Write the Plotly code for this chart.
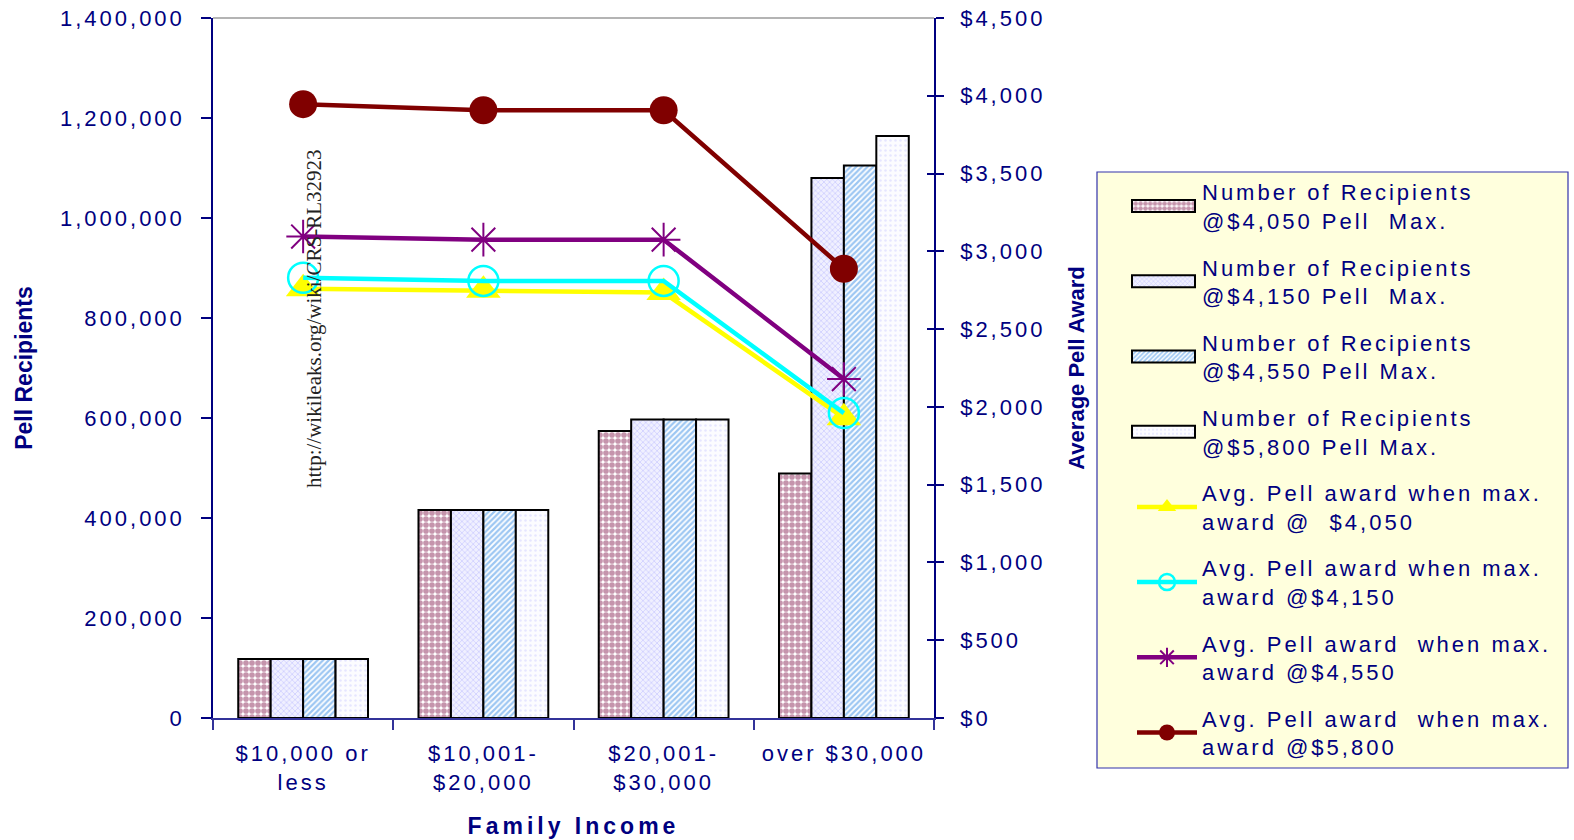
import plotly.graph_objects as go

# ---------------- data ----------------
categories = ["$10,000 or<br>less", "$10,001-<br>$20,000", "$20,001-<br>$30,000", "over $30,000"]

recip_4050 = [118000, 416000, 574000, 489000]
recip_4150 = [118000, 416000, 597000, 1080000]
recip_4550 = [118000, 416000, 597000, 1105000]
recip_5800 = [118000, 416000, 597000, 1164000]

avg_4050 = [2760, 2750, 2735, 1930]
avg_4150 = [2830, 2810, 2810, 1960]
avg_4550 = [3095, 3075, 3075, 2179]
avg_5800 = [3946, 3907, 3907, 2888]

bar_names = [
    "Number of Recipients<br>@$4,050 Pell  Max.",
    "Number of Recipients<br>@$4,150 Pell  Max.",
    "Number of Recipients<br>@$4,550 Pell Max.",
    "Number of Recipients<br>@$5,800 Pell Max.",
]
line_names = [
    "Avg. Pell award when max.<br>award @  $4,050",
    "Avg. Pell award when max.<br>award @$4,150",
    "Avg. Pell award  when max.<br>award @$4,550",
    "Avg. Pell award  when max.<br>award @$5,800",
]

left_ticks = [0, 200000, 400000, 600000, 800000, 1000000, 1200000, 1400000]
right_ticks = [0, 500, 1000, 1500, 2000, 2500, 3000, 3500, 4000, 4500]
right_tick_text = ["$" + format(v, ",") for v in right_ticks]

x_title = "Family Income"
y_title = "Pell Recipients"
y2_title = "Average Pell Award"
watermark = "http://wikileaks.org/wiki/CRS-RL32923"

# ---------------- styles ----------------
NAVY = "#000080"
FONT = "Liberation Sans, Arial, sans-serif"
W, H = 1574, 840

bar_series = [recip_4050, recip_4150, recip_4550, recip_5800]
bar_patterns = [
    dict(shape=".", fgcolor="#8b2a5a", bgcolor="#ffffff", size=6, solidity=0.7),
    dict(shape="x", fgcolor="#9c9cff", bgcolor="#f0f0ff", size=4, solidity=0.3),
    dict(shape="/", fgcolor="#3a8ee6", bgcolor="#ffffff", size=4, solidity=0.55),
    dict(shape=".", fgcolor="#d0d0ff", bgcolor="#fcfcff", size=5, solidity=0.2),
]

line_series = [avg_4050, avg_4150, avg_4550, avg_5800]
line_styles = [
    dict(color="#ffff00", symbol="triangle-up", size=30, lw=0),
    dict(color="#00ffff", symbol="circle-open", size=30, lw=2.5),
    dict(color="#800080", symbol="asterisk-open", size=28, lw=2),
    dict(color="#800000", symbol="circle", size=28, lw=0),
]

fig = go.Figure()

for i, (vals, name, pat) in enumerate(zip(bar_series, bar_names, bar_patterns)):
    fig.add_trace(go.Bar(
        x=categories, y=vals, name=name, legendgroup=f"g{i}",
        marker=dict(color=pat["bgcolor"], line=dict(color="#000000", width=2), pattern=pat),
        yaxis="y",
    ))

for i, (vals, name, st) in enumerate(zip(line_series, line_names, line_styles)):
    fig.add_trace(go.Scatter(
        x=categories, y=vals, name=name, legendgroup=f"l{i}",
        mode="lines+markers", yaxis="y2",
        line=dict(color=st["color"], width=4.5),
        marker=dict(symbol=st["symbol"], size=st["size"], color=st["color"],
                    line=dict(color=st["color"], width=st["lw"])),
    ))

# invisible helper trace so the inner half of the right-axis cross ticks is drawn
fig.add_trace(go.Scatter(x=[categories[0]], y=[None], yaxis="y3", showlegend=False,
                         hoverinfo="skip", mode="markers"))

# plot area in pixels
PL, PR, PT, PB = 213, 934, 18, 718
PW, PH = PR - PL, PB - PT


def px_x(px):
    return (px - PL) / PW


def px_y(py):
    return (PB - py) / PH


fig.update_layout(
    width=W, height=H, autosize=False,
    margin=dict(l=PL, r=W - PR, t=PT, b=H - PB, pad=0, autoexpand=False),
    paper_bgcolor="white", plot_bgcolor="white",
    font=dict(family=FONT, color=NAVY, size=22),
    barmode="group", bargap=0.28, bargroupgap=0,
    showlegend=True,
    legend=dict(
        x=px_x(1132), y=px_y(171), xanchor="left", yanchor="top",
        bgcolor="rgba(0,0,0,0)", borderwidth=0,
        font=dict(family=FONT, size=22, color=NAVY),
        itemwidth=60, tracegroupgap=15, traceorder="grouped",
    ),
    xaxis=dict(
        type="category", categoryorder="array", categoryarray=categories,
        range=[-0.5, 3.5], tickson="boundaries",
        ticks="outside", ticklen=10, tickwidth=1.5, tickcolor="#333399",
        showline=True, linecolor="#333399", linewidth=2,
        showgrid=False, zeroline=False, automargin=False,
        tickfont=dict(family=FONT, size=22, color=NAVY),
        ticklabelstandoff=15,
        title=dict(text=x_title, font=dict(family=FONT, size=23, color=NAVY, weight="bold"), standoff=24),
    ),
    yaxis=dict(
        range=[0, 1400000], tickvals=left_ticks, tickformat=",",
        ticks="outside", ticklen=10, tickwidth=1.5, tickcolor=NAVY,
        showline=True, linecolor=NAVY, linewidth=1.5,
        showgrid=False, zeroline=False, automargin=False,
        tickfont=dict(family=FONT, size=22, color=NAVY),
        ticklabelstandoff=12,
        title=dict(text=y_title, font=dict(family=FONT, size=23, color=NAVY, weight="bold"), standoff=48),
    ),
    yaxis2=dict(
        overlaying="y", side="right", anchor="x",
        range=[0, 4500], tickvals=right_ticks, ticktext=right_tick_text,
        ticks="outside", ticklen=8, tickwidth=1.5, tickcolor=NAVY,
        showline=True, linecolor=NAVY, linewidth=1.5,
        showgrid=False, zeroline=False, automargin=False,
        tickfont=dict(family=FONT, size=22, color=NAVY),
        ticklabelstandoff=12,
        title=dict(text=y2_title, font=dict(family=FONT, size=22, color=NAVY, weight="bold"), standoff=42),
    ),
    yaxis3=dict(
        overlaying="y", side="right", anchor="x",
        range=[0, 4500], tickvals=right_ticks,
        ticks="inside", ticklen=7, tickwidth=1.5, tickcolor=NAVY,
        showticklabels=False, showline=False,
        showgrid=False, zeroline=False, automargin=False,
    ),
    shapes=[
        # legend box
        dict(type="rect", xref="paper", yref="paper",
             x0=px_x(1097), x1=px_x(1568), y0=px_y(768), y1=px_y(172),
             fillcolor="#ffffdd", line=dict(color="#3333aa", width=1.2), layer="below"),
        # top border of the plot area
        dict(type="line", xref="paper", yref="paper", x0=0, x1=1, y0=1, y1=1,
             line=dict(color="#b4b4b4", width=2), layer="above"),
    ],
    annotations=[
        dict(text=watermark, xref="paper", yref="paper", x=px_x(300), y=px_y(319),
             textangle=-90, showarrow=False,
             font=dict(family="Liberation Serif, Times New Roman, serif", size=21, color="#222222")),
    ],
)

post = """
document.body.style.margin = '0';
document.body.style.overflow = 'hidden';
var gd = document.getElementById('{plot_id}');
function applySpacing(){
  gd.querySelectorAll('.xtick text, .ytick text, .y2tick text, text.legendtext').forEach(function(t){ t.style.letterSpacing = '3px'; });
  gd.querySelectorAll('text.xtitle').forEach(function(t){ t.style.letterSpacing = '4px'; });
  gd.querySelectorAll('.legend .scrollbox, .legend').forEach(function(el){ el.removeAttribute('clip-path'); });
  gd.querySelectorAll('.legend .scrollbar').forEach(function(el){ el.style.display = 'none'; });
  gd.querySelectorAll('.legend .legendpoints path').forEach(function(p){
    var d = (p.getAttribute('d') || '').replace(/\\s/g, '');
    if (d.indexOf('M6,6H-6V-6H6Z') === 0) { p.setAttribute('d', 'M28,6H-35V-6H28Z'); }
  });
}
applySpacing();
setTimeout(applySpacing, 50);
if (gd.on) { gd.on('plotly_afterplot', applySpacing); }
"""

fig.write_html("out.html", post_script=post, config={"displayModeBar": False})
